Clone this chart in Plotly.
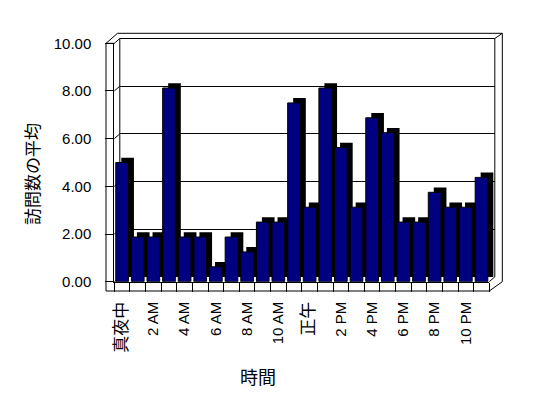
import plotly.graph_objects as go

# ---- data ----
categories = ["真夜中", "1 AM", "2 AM", "3 AM", "4 AM", "5 AM", "6 AM", "7 AM",
              "8 AM", "9 AM", "10 AM", "11 AM", "正午", "1 PM", "2 PM", "3 PM",
              "4 PM", "5 PM", "6 PM", "7 PM", "8 PM", "9 PM", "10 PM", "11 PM"]
values = [5.0, 1.875, 1.875, 8.125, 1.875, 1.875, 0.625, 1.875,
          1.25, 2.5, 2.5, 7.5, 3.125, 8.125, 5.625, 3.125,
          6.875, 6.25, 2.5, 2.5, 3.75, 3.125, 3.125, 4.375]
y_ticks = [0, 2, 4, 6, 8, 10]
x_title = "時間"
y_title = "訪問数の平均"

# page has an 8px body margin: figure is placed at (8, 8)
OFF = 8
W, H = 548 - OFF, 398 - OFF
def px(x):
    return (x - OFF) / W
def py(y):
    return 1 - (y - OFF) / H

LAT = "Liberation Sans, Arial, Noto Sans CJK JP, sans-serif"

# geometry (screen pixels)
FX0, FX1, FY0, FY1 = 114.3, 489.3, 43.3, 281.7   # front plane
DX, DY = 5.5, 4.8                                 # depth offset
BX0, BX1, BY0, BY1 = FX0 + DX, FX1 + DX, FY0 - DY, FY1 - DY

ticktext = []
for i, c in enumerate(categories):
    if i % 2 == 0:
        if any(ord(ch) > 127 for ch in c):
            ticktext.append('<span style="font-size:17px;fill:black;color:black">' + c + '</span>')
        else:
            ticktext.append(c)
    else:
        ticktext.append("")

fig = go.Figure()

# depth (shadow) bars on back plane
fig.add_trace(go.Bar(x=categories, y=values, xaxis="x", yaxis="y",
                     width=0.81, marker=dict(color="black", line=dict(width=0)),
                     hoverinfo="skip", showlegend=False))
# front bars
fig.add_trace(go.Bar(x=categories, y=values, xaxis="x2", yaxis="y2",
                     width=0.81, marker=dict(color="#000080", line=dict(color="black", width=1)),
                     showlegend=False))

fig.update_layout(
    width=W, height=H, autosize=False, showlegend=False,
    margin=dict(l=0, r=0, t=0, b=0, pad=0, autoexpand=False),
    paper_bgcolor="white", plot_bgcolor="rgba(0,0,0,0)",
    font=dict(family=LAT, color="black", size=15),
    xaxis=dict(domain=[px(BX0), px(BX1)], anchor="y", type="category",
               categoryorder="array", categoryarray=categories,
               range=[-0.5, len(categories) - 0.5], automargin=False,
               showgrid=False, showticklabels=False, ticks="", showline=False,
               zeroline=False),
    yaxis=dict(domain=[py(BY1), py(BY0)], anchor="x", range=[0, 10], automargin=False,
               tickvals=y_ticks, showgrid=True, gridcolor="black", gridwidth=1,
               showticklabels=False, ticks="", showline=False, zeroline=False),
    xaxis2=dict(domain=[px(FX0), px(FX1)], anchor="y2", type="category",
                categoryorder="array", categoryarray=categories,
                range=[-0.5, len(categories) - 0.5], automargin=False,
                tickvals=categories, ticktext=ticktext, tickangle=-90,
                tickson="boundaries", ticks="outside", ticklen=9,
                tickcolor="black", tickwidth=1,
                showline=True, linecolor="black", linewidth=1,
                showgrid=False, zeroline=False,
                tickfont=dict(family=LAT, size=15, color="black"), ticklabelstandoff=13),
    yaxis2=dict(domain=[py(FY1), py(FY0)], anchor="x2", range=[0, 10], automargin=False,
                tickvals=y_ticks, tickformat=".2f",
                ticks="outside", ticklen=8, tickcolor="black",
                showline=True, linecolor="black", linewidth=1,
                showgrid=False, zeroline=False,
                tickfont=dict(family=LAT, size=15, color="black"), ticklabelstandoff=11),
)

shapes = []
def seg(x0, y0, x1, y1, layer="above"):
    shapes.append(dict(type="line", xref="paper", yref="paper",
                       x0=px(x0), y0=py(y0), x1=px(x1), y1=py(y1),
                       line=dict(color="black", width=1), layer=layer))

WL = FX0 - 8.3   # outer left wall
FB = FY1 + 9.3   # floor bottom
TOP = BY0 - 5.2  # outer top
RO = BX1 + 7.5   # outer right
seg(WL, FY0, WL, FB)
seg(WL, FB, FX1, FB)
seg(WL, FY0, FX0, FY0)
seg(WL, FY0, WL + 11.5, TOP)
seg(FX0, FY0, BX0, BY0)
seg(WL + 11.5, TOP, RO, TOP)
seg(BX0, BY0, BX1, BY0)
seg(BX0, BY0, BX0, BY1, layer="below")
seg(BX1, BY0, BX1, BY1)
seg(BX1, BY0, RO, TOP)
seg(RO, TOP, RO, FY1)
seg(RO, FY1, FX1, FB)
seg(FX1, FY1, BX1, BY1)

# side-wall diagonals at each gridline level
for v in y_ticks:
    shapes.append(dict(type="line", xref="paper", yref="y2", ysizemode="pixel",
                       yanchor=v, x0=px(FX0), x1=px(BX0), y0=0, y1=DY,
                       line=dict(color="black", width=1), layer="below"))

fig.update_layout(shapes=shapes)

fig.add_annotation(text=y_title, textangle=-90, xref="paper", yref="paper",
                   x=px(31), y=py(174), xanchor="center", yanchor="middle",
                   showarrow=False,
                   font=dict(family="Noto Sans CJK JP", size=17, color="black"))
fig.add_annotation(text=x_title, xref="paper", yref="paper",
                   x=px(258), y=py(376), xanchor="center", yanchor="middle",
                   showarrow=False,
                   font=dict(family="Noto Sans CJK JP", size=18, color="black"))

fig.write_html("out.html")
